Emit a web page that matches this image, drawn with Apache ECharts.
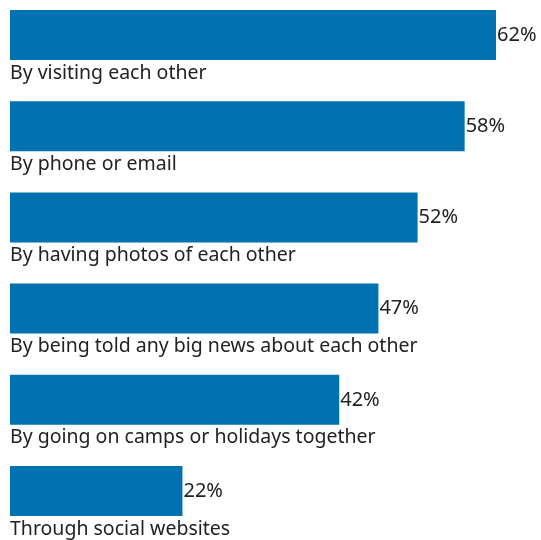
<!DOCTYPE html>
<html><head><meta charset="utf-8">
<script src="https://cdn.jsdelivr.net/npm/echarts@6/dist/echarts.min.js"></script>
<style>html,body{margin:0;padding:0;background:#fff}#c{width:541px;height:540px}</style>
</head><body><div id="c"></div>
<script>
const categories = ["By visiting each other","By phone or email","By having photos of each other","By being told any big news about each other","By going on camps or holidays together","Through social websites"];
const values = [62,58,52,47,42,22];

const chart = echarts.init(document.getElementById('c'), null, {renderer:'canvas'});
const FONT = 'Noto Sans';
chart.setOption({
  animation:false,
  grid:{left:10,right:45,top:35,bottom:49,containLabel:false},
  xAxis:{type:'value',min:0,max:62,show:false},
  yAxis:{type:'category',data:categories,inverse:true,show:false,boundaryGap:false},
  series:[
    {type:'bar',data:values,barWidth:50,itemStyle:{color:'#0071b1'},
     label:{show:true,position:'right',distance:1,formatter:'{c}%',color:'#222',fontFamily:FONT,fontSize:20}},
    {type:'bar',data:values,barWidth:50,barGap:'-100%',itemStyle:{color:'rgba(0,0,0,0)'},
     label:{show:true,position:[0,53],verticalAlign:'top',align:'left',formatter:p=>p.name,color:'#222',fontFamily:FONT,fontSize:19.5}}
  ]
});
</script></body></html>
